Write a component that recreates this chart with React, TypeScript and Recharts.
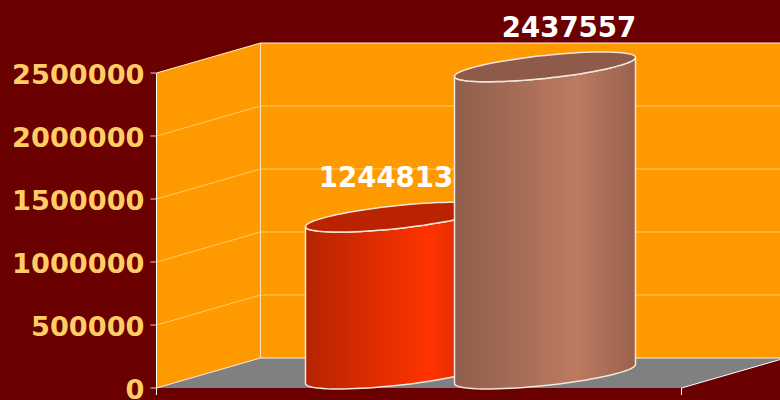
import { BarChart, Bar, XAxis, YAxis, CartesianGrid, LabelList } from 'recharts'

const categories = ['']
const firstSeries = [1244813]
const secondSeries = [2437557]
const yTicks = [0, 500000, 1000000, 1500000, 2000000, 2500000]

const data = categories.map((name, i) => ({
  name,
  first: firstSeries[i],
  second: secondSeries[i],
}))

const W = 780
const H = 400
const LEFT = 156.5
const RIGHT = 681.5
const TOP = 73
const BOTTOM = 388
// how far the back wall sits from the front plane
const DX = 104
const DY = 30
const FONT = '"DejaVu Sans", sans-serif'

const SHEAR = 0.105
const RY = 11.5
const TOP_LIFT = 14

function Cylinder(props: any) {
  const { x, y, width, height, id, dark, light, edge, face } = props
  const rx = width / 2
  const cx = x + rx + DX / 2 - 1
  const topCy = y - TOP_LIFT
  const botCy = y + height - TOP_LIFT

  const pt = (t: number, cy: number) =>
    `${(cx + rx * Math.cos(t)).toFixed(1)},${(cy - SHEAR * rx * Math.cos(t) + RY * Math.sin(t)).toFixed(1)}`

  const steps = 40
  const front: number[] = []
  for (let i = 0; i <= steps; i++) front.push((Math.PI * i) / steps)

  const body =
    'M' +
    [...front.slice().reverse().map((t) => pt(t, botCy)), ...front.map((t) => pt(t, topCy))].join('L') +
    'Z'
  const cap =
    'M' +
    [...front.map((t) => pt(t, topCy)), ...front.map((t) => pt(t + Math.PI, topCy))].join('L') +
    'Z'

  return (
    <g>
      <defs>
        <linearGradient id={id} x1="0" y1="0" x2="1" y2="0">
          <stop offset="0%" stopColor={dark} />
          <stop offset="68%" stopColor={light} />
          <stop offset="100%" stopColor={edge} />
        </linearGradient>
      </defs>
      <path d={body} fill={`url(#${id})`} stroke="#F2E6DC" strokeWidth={1.5} strokeLinejoin="round" />
      <path d={cap} fill={face} stroke="#F2E6DC" strokeWidth={1.5} strokeLinejoin="round" />
    </g>
  )
}

const valueLabel = (shift: number) => (props: any) => {
  const { x, y, width, value } = props
  return (
    <text
      x={x + width / 2 + shift}
      y={y - 44}
      textAnchor="middle"
      fill="#FFFFFF"
      fontFamily={FONT}
      fontWeight="bold"
      fontSize={27.6}
    >
      {value}
    </text>
  )
}

function GridLine(props: any) {
  const { x1, x2, y1 } = props
  const isEdge = Math.abs(y1 - TOP) < 1 || Math.abs(y1 - BOTTOM) < 1
  return (
    <polyline
      key={props.key ?? y1}
      points={`${x1},${y1} ${x1 + DX},${y1 - DY} ${x2 + DX},${y1 - DY}`}
      fill="none"
      stroke={isEdge ? '#FFF2D8' : '#FFCC66'}
      strokeWidth={1}
    />
  )
}

function Walls() {
  return (
    <svg width={W} height={H} style={{ position: 'absolute', left: 0, top: 0 }}>
      <rect width={W} height={H} fill="#6B0000" />
      <polygon
        points={`${LEFT},${TOP} ${LEFT + DX},${TOP - DY} ${W + 10},${TOP - DY} ${W + 10},${BOTTOM - DY} ${LEFT + DX},${BOTTOM - DY} ${LEFT},${BOTTOM}`}
        fill="#FF9900"
      />
      <polygon
        points={`${LEFT},${BOTTOM} ${LEFT + DX},${BOTTOM - DY} ${RIGHT + DX},${BOTTOM - DY} ${RIGHT},${BOTTOM}`}
        fill="#808080"
      />
      <line x1={LEFT + DX} y1={TOP - DY} x2={LEFT + DX} y2={BOTTOM - DY} stroke="#FFE6B3" />
      <line x1={RIGHT} y1={BOTTOM} x2={RIGHT + DX} y2={BOTTOM - DY} stroke="#FFFFFF" />
      <line x1={LEFT} y1={BOTTOM} x2={LEFT} y2={BOTTOM + 7} stroke="#FFFFFF" />
      <line x1={RIGHT} y1={BOTTOM} x2={RIGHT} y2={BOTTOM + 7} stroke="#FFFFFF" />
    </svg>
  )
}

export default function App() {
  return (
    <div style={{ position: 'fixed', left: 0, top: 0, width: W, height: H, overflow: 'hidden' }}>
      <Walls />
      <div style={{ position: 'absolute', left: 0, top: 0 }}>
        <BarChart
          width={W}
          height={H}
          data={data}
          margin={{ top: TOP, right: W - RIGHT, bottom: H - BOTTOM, left: 0 }}
          barSize={181}
          barGap={-32}
          style={{ overflow: 'visible' }}
        >
          <CartesianGrid vertical={false} horizontal={GridLine} />
          <XAxis dataKey="name" height={0} tick={false} tickLine={false} axisLine={{ stroke: '#C8C8C8', strokeWidth: 1.5 }} />
          <YAxis
            width={LEFT}
            domain={[0, 2500000]}
            ticks={yTicks}
            interval={0}
            axisLine={{ stroke: '#FFFFFF', strokeWidth: 1 }}
            tickLine={{ stroke: '#E0D0D0', strokeWidth: 1 }}
            tickSize={6}
            tickMargin={6}
            tick={{ fill: '#FFCC66', fontFamily: FONT, fontWeight: 'bold', fontSize: 27.2, dy: 1.5 }}
          />
          <Bar
            dataKey="first"
            isAnimationActive={false}
            shape={(p: any) => (
              <Cylinder {...p} id="firstFill" dark="#B32400" light="#FF3300" edge="#CC2900" face="#BB2200" />
            )}
          >
            <LabelList dataKey="first" content={valueLabel(41)} />
          </Bar>
          <Bar
            dataKey="second"
            isAnimationActive={false}
            shape={(p: any) => (
              <Cylinder {...p} id="secondFill" dark="#8F5E4C" light="#BC7A60" edge="#99624E" face="#8E5A4A" />
            )}
          >
            <LabelList dataKey="second" content={valueLabel(75)} />
          </Bar>
        </BarChart>
      </div>
    </div>
  )
}
